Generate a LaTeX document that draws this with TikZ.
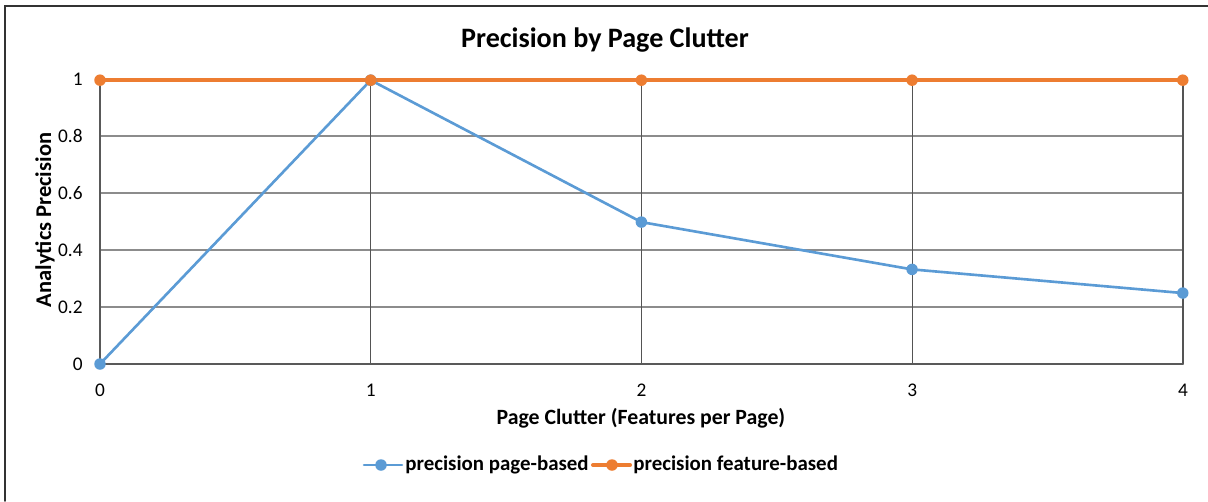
\documentclass[tikz,border=0pt]{standalone}
\usepackage{fontspec}
\setmainfont{Carlito}
\usepackage{tikz}
\usetikzlibrary{positioning}
\definecolor{pageBlue}{RGB}{91,155,213}
\definecolor{featOrange}{RGB}{237,125,49}
\definecolor{gridGray}{RGB}{140,140,140}
\tikzset{
	gridline/.style={gridGray, line width=0.7pt},
	axisline/.style={black!65, line width=0.9pt},
	tick/.style={font=\fontsize{11}{13}\selectfont, inner sep=0pt},
	axlabel/.style={font=\bfseries\fontsize{12.4}{14}\selectfont},
	pageline/.style={pageBlue, line width=1.5pt},
	featline/.style={featOrange, line width=2.3pt},
	pagedot/.style={circle, fill=pageBlue, inner sep=0pt, minimum size=0.23cm},
	featdot/.style={circle, fill=featOrange, inner sep=0pt, minimum size=0.23cm}
}
\begin{document}
\begin{tikzpicture}[x=0.02cm, y=-0.02cm, style={line cap=round}]
	\useasboundingbox (0,0) rectangle (1208,501);
	\draw[black!80, line width=0.9pt] (5,501) -- (5,6) -- (1208,6);
	\node[font=\bfseries\fontsize{16}{19}\selectfont] (title) at (605,40) {Precision by Page Clutter};
	\begin{scope}[shift={(100,364)}, xscale=270.75, yscale=-285]
		% grid
		\foreach \g in {0.2,0.4,0.6,0.8}
			\draw[gridline] (0,\g) -- (4,\g);
		\foreach \g in {1,2,3,4}
			\draw[gridline, gridGray!60!black] (\g,0) -- (\g,1);
		\draw[axisline] (0,1) -- (0,0) -- (4,0);
		% ticks
		\foreach \t in {0,0.2,0.4,0.6,0.8,1}
			\node[tick, anchor=east, xshift=-0.34cm] (yt\t) at (0,\t) {\t};
		\foreach \t in {0,...,4}
			\node[tick, yshift=-0.52cm] (xt\t) at (\t,0) {\t};
		% series
		\foreach \i/\v in {0/0, 1/1, 2/0.5, 3/0.3333, 4/0.25}
			\coordinate (p\i) at (\i,\v);
		\foreach \i in {0,...,4}
			\coordinate (f\i) at (\i,1);
		\draw[pageline] (p0) -- (p1) -- (p2) -- (p3) -- (p4);
		\draw[featline] (f0) -- (f4);
		\foreach \i in {0,...,4} {
			\node[pagedot] at (p\i) {};
			\node[featdot] at (f\i) {};
		}
	\end{scope}
	\node[axlabel] (xlab) at (641,418) {Page Clutter (Features per Page)};
	\node[axlabel, font=\bfseries\fontsize{12.8}{15}\selectfont, rotate=90] (ylab) at (45,220) {Analytics Precision};
	% legend
	\coordinate (lb1) at (364,465);
	\coordinate (lb2) at (402,465);
	\draw[pageline] (lb1) -- (lb2);
	\node[pagedot] (lbdot) at (381,465) {};
	\node[axlabel, font=\bfseries\fontsize{11.9}{14}\selectfont, anchor=west, inner sep=0pt] (lbtext) at (405,465) {precision page-based};
	\coordinate (lf1) at (593,465);
	\coordinate (lf2) at (630,465);
	\draw[featline] (lf1) -- (lf2);
	\node[featdot] (lfdot) at (612,465) {};
	\node[axlabel, font=\bfseries\fontsize{11.9}{14}\selectfont, anchor=west, inner sep=0pt] (lftext) at (633,465) {precision feature-based};
\end{tikzpicture}
\end{document}
